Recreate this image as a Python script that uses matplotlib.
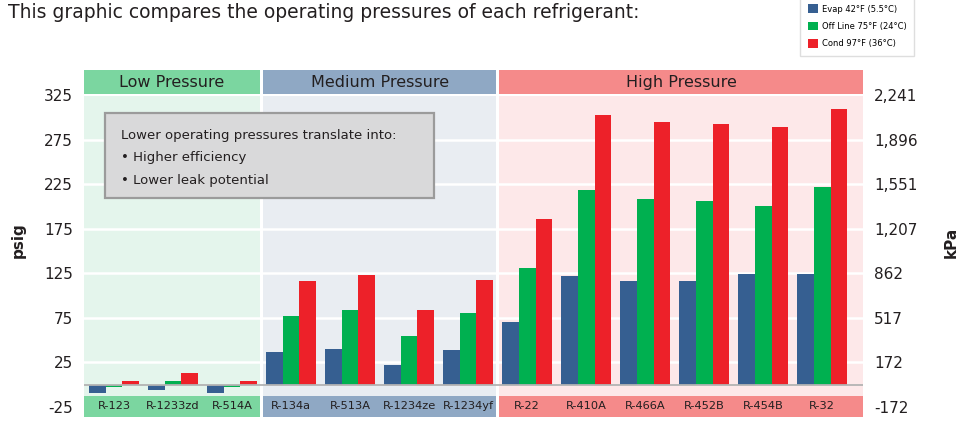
import numpy as np
import matplotlib
matplotlib.use("Agg")
import matplotlib.pyplot as plt
from matplotlib.patches import Rectangle

plt.rcParams["font.family"] = ["DejaVu Sans"]

# ---- data (psig) ----
refrigerants = ["R-123", "R-1233zd", "R-514A",
                "R-134a", "R-513A", "R-1234ze", "R-1234yf",
                "R-22", "R-410A", "R-466A", "R-452B", "R-454B", "R-32"]
evap_42f = [-9.7, -6.4, -9.7, 37.0, 40.4, 22.5, 39.3,
            70.7, 122.4, 116.7, 116.7, 124.6, 124.6]
offline_75f = [-3.0, 4.5, -3.0, 77.5, 84.2, 55.0, 80.8,
               131.3, 218.9, 208.8, 206.6, 200.9, 222.3]
cond_97f = [4.5, 12.7, 4.5, 116.8, 123.5, 84.2, 117.9,
            186.3, 303.1, 295.2, 293.0, 289.6, 309.8]
series_labels = ["Evap 42°F (5.5°C)", "Off Line 75°F (24°C)", "Cond 97°F (36°C)"]

groups = ["Low Pressure", "Medium Pressure", "High Pressure"]
group_sizes = [3, 4, 6]

psig_ticks = [-25, 25, 75, 125, 175, 225, 275, 325]
kpa_labels = ["-172", "172", "517", "862", "1,207", "1,551", "1,896", "2,241"]

note_lines = ["Lower operating pressures translate into:",
              "• Higher efficiency",
              "• Lower leak potential"]
title = "This graphic compares the operating pressures of each refrigerant:"

# ---- styles ----
bar_colors = ["#365f91", "#00b050", "#ed2129"]
head_colors = ["#7bd6a0", "#8fa8c4", "#f58a8a"]
back_colors = ["#e4f5ec", "#e9edf2", "#fde8e9"]
txt = "#231f20"

W, H = 974, 425


def fx(px):
    return px / W


def fy(py):
    return 1 - py / H


fig = plt.figure(figsize=(W / 100, H / 100), dpi=100)
ax = fig.add_axes([fx(84), fy(417), (863 - 84) / W, (417 - 70) / H])

x = np.arange(len(refrigerants))
xmin, xmax = -0.508, 12.69
ymin, ymax = -36.3, 353.6
ax.set_xlim(xmin, xmax)
ax.set_ylim(ymin, ymax)

# 分区背景、表头、标签底条
gap = 0.025
start = 0
for i, (name, n) in enumerate(zip(groups, group_sizes)):
    left = xmin if i == 0 else start - 0.5 + gap
    right = xmax if i == len(groups) - 1 else start + n - 0.5 - gap
    ax.add_patch(Rectangle((left, 326.5), right - left, ymax - 326.5,
                           color=head_colors[i], lw=0, zorder=0))
    ax.add_patch(Rectangle((left, -13.2), right - left, 324 + 13.2,
                           color=back_colors[i], lw=0, zorder=0))
    ax.add_patch(Rectangle((left, ymin), right - left, -13.2 - ymin,
                           color=head_colors[i], lw=0, zorder=0))
    ax.text((left + right) / 2, 340, name, ha="center", va="center",
            fontsize=11.5, color=txt)
    start += n

for t in psig_ticks[1:-1]:
    ax.axhline(t, color="white", lw=1.8, zorder=1)

# 柱子
w = 0.283
for k, vals in enumerate([evap_42f, offline_75f, cond_97f]):
    ax.bar(x + (k - 1) * w, vals, width=w, color=bar_colors[k],
           label=series_labels[k], zorder=2)

ax.axhline(0, color="#b3b3b3", lw=1.3, zorder=3)

for xi, name in zip(x, refrigerants):
    ax.text(xi, -24.5, name, ha="center", va="center", fontsize=8.2, color=txt)

# 坐标轴
for s in ax.spines.values():
    s.set_visible(False)
ax.set_xticks([])
ax.set_yticks(psig_ticks)
ax.set_yticklabels([str(v) for v in psig_ticks])
ax.tick_params(axis="y", length=0, pad=8, labelsize=11, labelcolor=txt)

ax2 = ax.twinx()
ax2.set_ylim(ymin, ymax)
ax2.set_yticks(psig_ticks)
ax2.set_yticklabels(kpa_labels)
ax2.tick_params(axis="y", length=0, pad=8, labelsize=11, labelcolor=txt)
for s in ax2.spines.values():
    s.set_visible(False)

fig.text(fx(18), fy(240), "psig", rotation=90, ha="center", va="center",
         fontsize=11, fontweight="bold", color=txt)
fig.text(fx(951), fy(242), "kPa", rotation=90, ha="center", va="center",
         fontsize=11, fontweight="bold", color=txt)

# 标题
fig.text(fx(8), fy(18), title, ha="left", va="baseline", fontsize=13.5, color=txt)

# 说明框
fig.patches.append(Rectangle((fx(105), fy(198)), (434 - 105) / W, (198 - 113) / H,
                             transform=fig.transFigure, facecolor="#d9d9da",
                             edgecolor="#9b9b9b", lw=1.6, zorder=5))
for j, line in enumerate(note_lines):
    fig.text(fx(121), fy(135 + j * 22.5), line, ha="left", va="center",
             fontsize=9.5, color=txt, zorder=6)

# 图例
fig.legend(loc="upper left", bbox_to_anchor=(fx(800), fy(-3)), ncol=1,
           fontsize=6, frameon=True, fancybox=False, edgecolor="#d6d6d6",
           handlelength=1.2, handleheight=1.2, handletextpad=0.5,
           labelspacing=1.0, borderpad=0.9, borderaxespad=0)

fig.savefig("out.png", dpi=100)
